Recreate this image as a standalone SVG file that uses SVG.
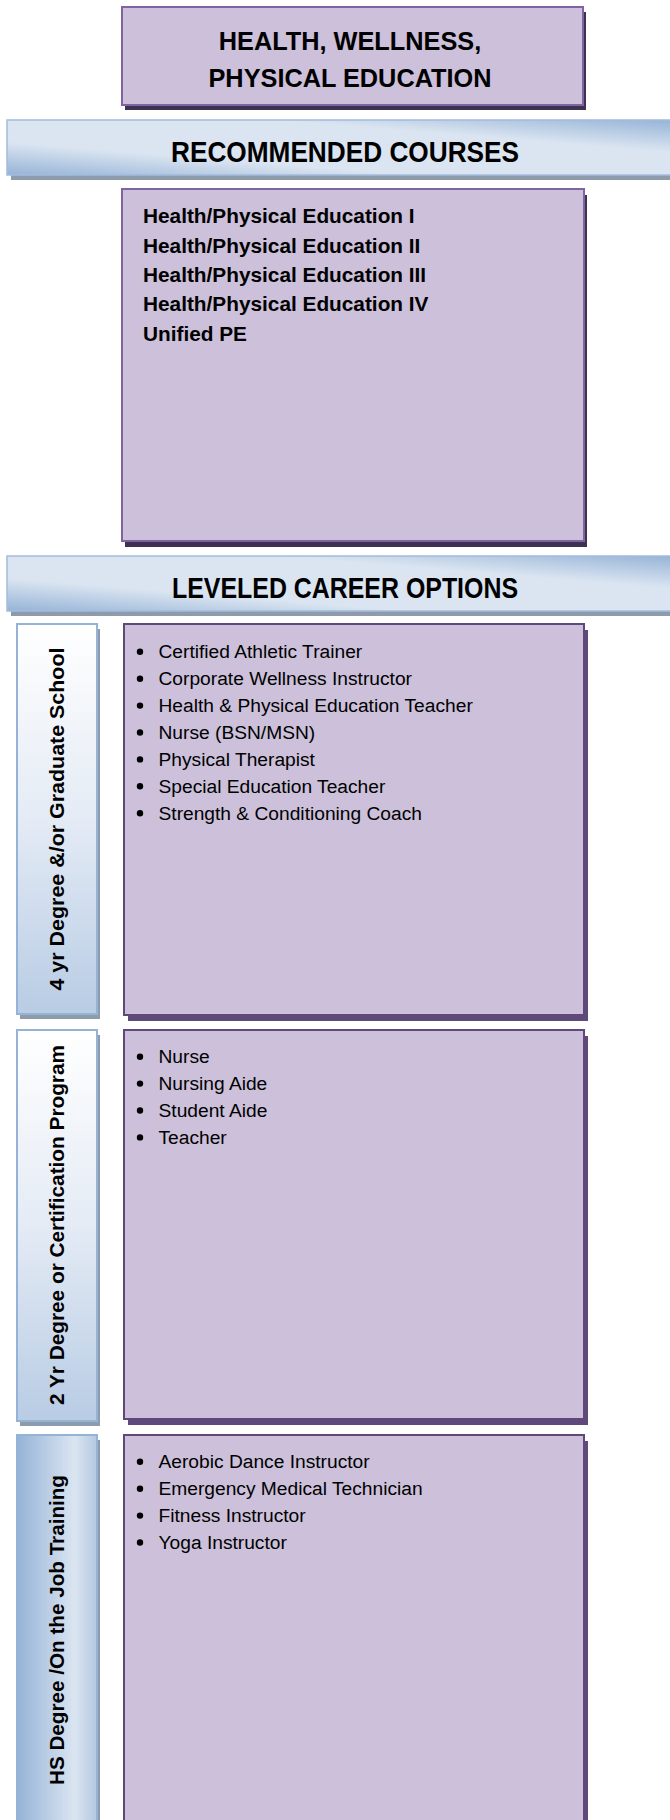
<svg xmlns="http://www.w3.org/2000/svg" width="670" height="1820" viewBox="0 0 670 1820">
<defs>
<linearGradient id="bandGrad" x1="0" y1="1" x2="1" y2="0">
<stop offset="0" stop-color="#95b3d7"/>
<stop offset="0.3" stop-color="#dbe5f1"/>
<stop offset="0.7" stop-color="#dbe5f1"/>
<stop offset="1" stop-color="#95b3d7"/>
</linearGradient>
<linearGradient id="labelGradV" x1="0" y1="0" x2="0" y2="1">
<stop offset="0" stop-color="#ffffff"/>
<stop offset="0.5" stop-color="#e4ebf5"/>
<stop offset="1" stop-color="#b8cce4"/>
</linearGradient>
<linearGradient id="labelGradH" x1="0" y1="0" x2="1" y2="0">
<stop offset="0" stop-color="#95b3d7"/>
<stop offset="0.72" stop-color="#dbe5f1"/>
<stop offset="1" stop-color="#b3c8e2"/>
</linearGradient>
<style>
.box{fill:#ccc0da;stroke:#8064a2;stroke-width:2}
.boxShadow{fill:#3f3151}
.lvlBox{fill:#ccc0da;stroke:#5f497a;stroke-width:2}
.lvlShadow{fill:#5f497a}
.band{fill:url(#bandGrad);stroke:#a3bcdc;stroke-width:1.5}
.bandShadow{fill:#8e9bab}
.label{stroke:#95b3d7;stroke-width:2}
.labelShadow{fill:#8e9bab}
.title{font-family:"Liberation Sans",Arial,sans-serif;font-weight:bold;font-size:25.3px;fill:#000;text-anchor:middle}
.head{font-family:"Liberation Sans",Arial,sans-serif;font-weight:bold;font-size:29.5px;fill:#000;text-anchor:middle}
.course{font-family:"Liberation Sans",Arial,sans-serif;font-weight:bold;font-size:20.8px;fill:#000}
.item{font-family:"Liberation Sans",Arial,sans-serif;font-size:19.2px;fill:#000}
.lvl{font-family:"Liberation Sans",Arial,sans-serif;font-weight:bold;font-size:20.8px;fill:#000;text-anchor:middle}
.dot{fill:#000}
</style>
</defs>

<g id="title">
<rect class="boxShadow" x="125" y="12" width="461" height="98"/>
<rect class="box" x="122" y="7" width="461" height="98"/>
<text class="title" x="350" y="50">HEALTH, WELLNESS,</text>
<text class="title" x="350" y="87">PHYSICAL EDUCATION</text>
</g>

<g id="band-courses">
<rect class="bandShadow" x="11" y="125" width="670" height="55"/>
<rect class="band" x="7" y="120" width="670" height="55"/>
<text class="head" x="345" y="162" textLength="348" lengthAdjust="spacingAndGlyphs">RECOMMENDED COURSES</text>
</g>

<g id="courses">
<rect class="boxShadow" x="125" y="195" width="462" height="352"/>
<rect class="box" x="122" y="189" width="462" height="352"/>
<text class="course" x="143" y="223.3">Health/Physical Education I</text>
<text class="course" x="143" y="252.7">Health/Physical Education II</text>
<text class="course" x="143" y="282">Health/Physical Education III</text>
<text class="course" x="143" y="311.3">Health/Physical Education IV</text>
<text class="course" x="143" y="340.7">Unified PE</text>
</g>

<g id="band-careers">
<rect class="bandShadow" x="11" y="561" width="670" height="55"/>
<rect class="band" x="7" y="556" width="670" height="55"/>
<text class="head" x="345" y="598" textLength="346" lengthAdjust="spacingAndGlyphs">LEVELED CAREER OPTIONS</text>
</g>

<g id="level-4yr">
<rect class="labelShadow" x="20" y="629" width="80" height="390"/>
<rect class="label" x="17" y="624" width="80" height="390" fill="url(#labelGradV)"/>
<text class="lvl" transform="translate(64,819) rotate(-90)" textLength="343" lengthAdjust="spacingAndGlyphs">4 yr Degree  &amp;/or Graduate School</text>
<rect class="lvlShadow" x="128" y="630" width="460" height="391"/>
<rect class="lvlBox" x="124" y="624" width="460" height="391"/>
<circle class="dot" cx="140" cy="651.8" r="3.2"/>
<text class="item" x="158.5" y="658.3">Certified Athletic Trainer</text>
<circle class="dot" cx="140" cy="678.7" r="3.2"/>
<text class="item" x="158.5" y="685.2">Corporate Wellness Instructor</text>
<circle class="dot" cx="140" cy="705.6" r="3.2"/>
<text class="item" x="158.5" y="712.1">Health &amp; Physical Education Teacher</text>
<circle class="dot" cx="140" cy="732.5" r="3.2"/>
<text class="item" x="158.5" y="739">Nurse (BSN/MSN)</text>
<circle class="dot" cx="140" cy="759.4" r="3.2"/>
<text class="item" x="158.5" y="765.9">Physical Therapist</text>
<circle class="dot" cx="140" cy="786.3" r="3.2"/>
<text class="item" x="158.5" y="792.8">Special Education Teacher</text>
<circle class="dot" cx="140" cy="813.2" r="3.2"/>
<text class="item" x="158.5" y="819.7">Strength &amp; Conditioning Coach</text>
</g>

<g id="level-2yr">
<rect class="labelShadow" x="20" y="1035" width="80" height="391"/>
<rect class="label" x="17" y="1030" width="80" height="391" fill="url(#labelGradV)"/>
<text class="lvl" transform="translate(64,1225) rotate(-90)" textLength="360" lengthAdjust="spacingAndGlyphs">2 Yr Degree or Certification Program</text>
<rect class="lvlShadow" x="128" y="1036" width="460" height="389"/>
<rect class="lvlBox" x="124" y="1030" width="460" height="389"/>
<circle class="dot" cx="140" cy="1056.7" r="3.2"/>
<text class="item" x="158.5" y="1063.2">Nurse</text>
<circle class="dot" cx="140" cy="1083.6" r="3.2"/>
<text class="item" x="158.5" y="1090.1">Nursing Aide</text>
<circle class="dot" cx="140" cy="1110.5" r="3.2"/>
<text class="item" x="158.5" y="1117">Student Aide</text>
<circle class="dot" cx="140" cy="1137.4" r="3.2"/>
<text class="item" x="158.5" y="1143.9">Teacher</text>
</g>

<g id="level-hs">
<rect class="labelShadow" x="20" y="1440" width="80" height="400"/>
<rect class="label" x="17" y="1435" width="80" height="400" fill="url(#labelGradH)"/>
<text class="lvl" transform="translate(63.5,1630) rotate(-90)" textLength="310" lengthAdjust="spacingAndGlyphs">HS Degree /On the Job Training</text>
<rect class="lvlShadow" x="128" y="1441" width="460" height="400"/>
<rect class="lvlBox" x="124" y="1435" width="460" height="400"/>
<circle class="dot" cx="140" cy="1461.8" r="3.2"/>
<text class="item" x="158.5" y="1468.3">Aerobic Dance Instructor</text>
<circle class="dot" cx="140" cy="1488.7" r="3.2"/>
<text class="item" x="158.5" y="1495.2">Emergency Medical Technician</text>
<circle class="dot" cx="140" cy="1515.6" r="3.2"/>
<text class="item" x="158.5" y="1522.1">Fitness Instructor</text>
<circle class="dot" cx="140" cy="1542.5" r="3.2"/>
<text class="item" x="158.5" y="1549">Yoga Instructor</text>
</g>

<g id="connectors"/>
</svg>
